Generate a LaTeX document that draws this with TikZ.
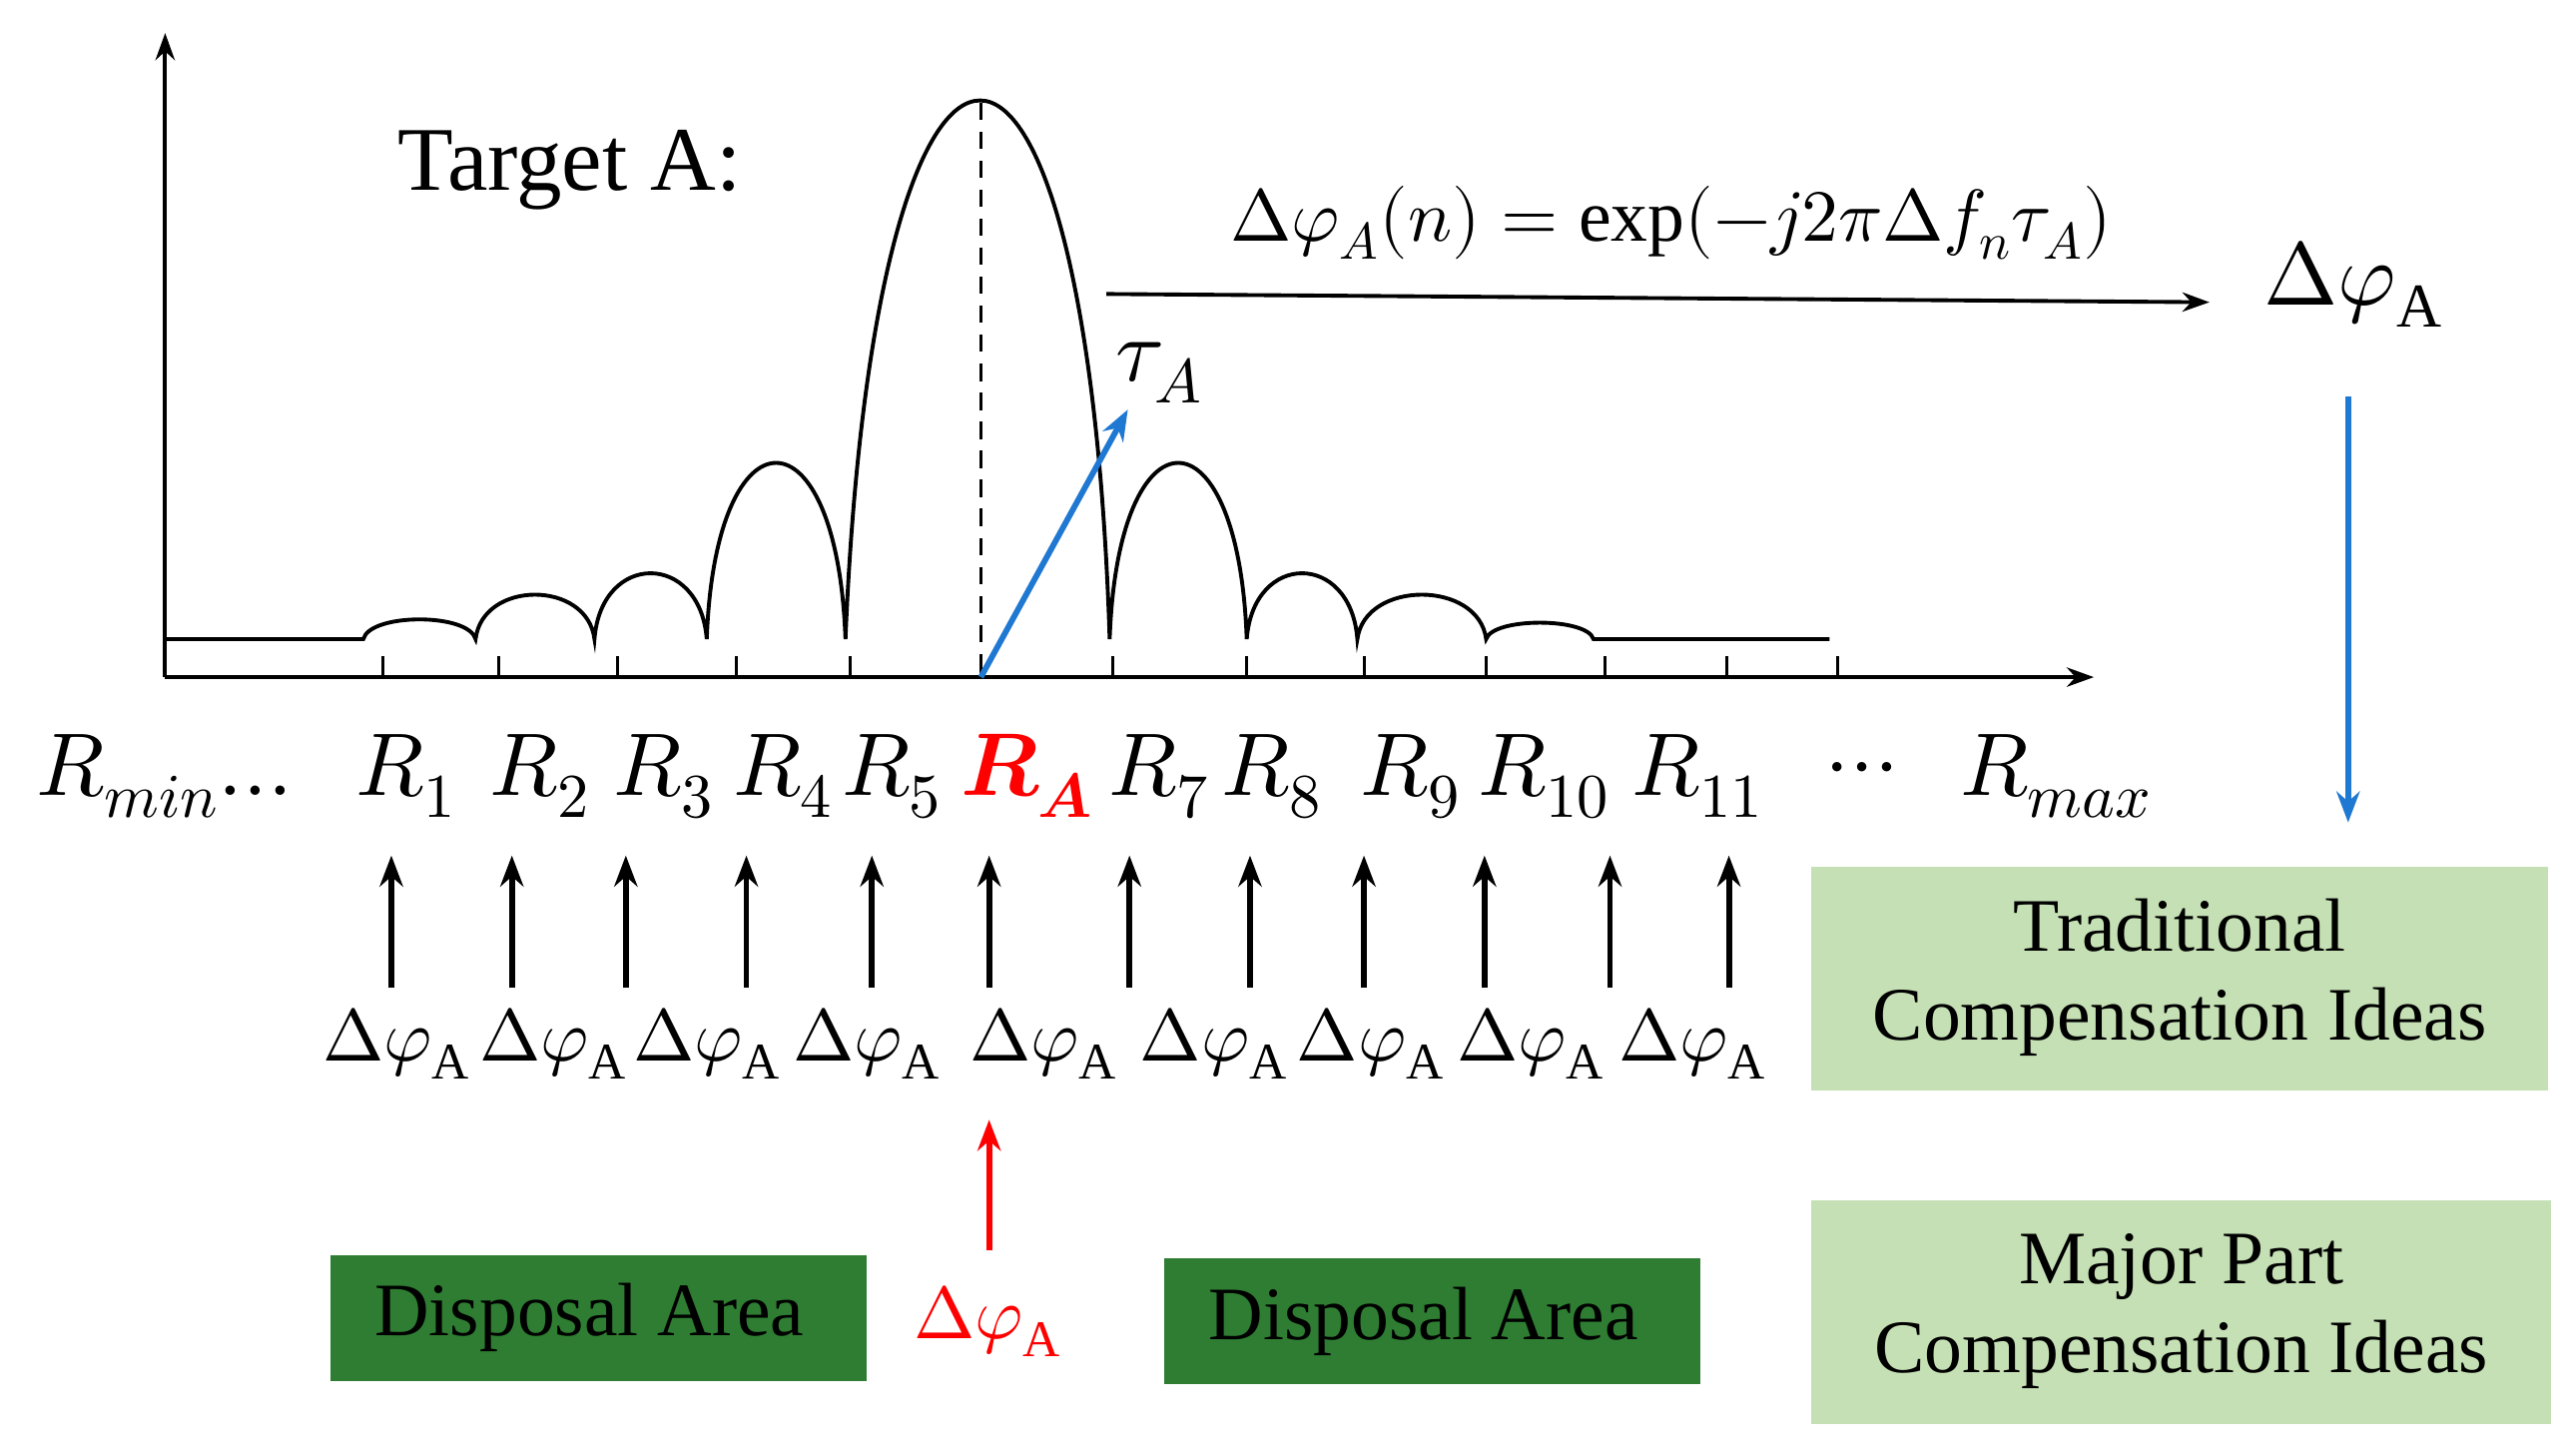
\documentclass[tikz,border=0pt]{standalone}
\usepackage{amsmath}
\usepackage{fontspec}
\usepackage{unicode-math}
\setmainfont{Liberation Serif}
\setmathfont{Latin Modern Math}
\usetikzlibrary{arrows.meta}
\definecolor{dg}{HTML}{2E7D32}
\definecolor{lg}{HTML}{C5E0B4}
\definecolor{bl}{HTML}{1F78D1}
\begin{document}
\begin{tikzpicture}[x=0.03cm,y=-0.03cm,
  ax/.style={line width=2pt,-{Stealth[length=14pt,width=10pt]}},
  up/.style={line width=3pt,-{Stealth[length=16pt,width=12pt]}},
  rl/.style={font=\fontsize{46}{50}\selectfont},
  dl/.style={font=\fontsize{38}{42}\selectfont},
  bt/.style={font=\fontsize{39}{46}\selectfont,align=center}]
\useasboundingbox (0,0) rectangle (1560,878);
\draw[ax] (100,410) -- (100,20);
\draw[ax] (100,410) -- (1268,410);
\foreach \x in {232,302,374,446,515,594,674,755,826,900,972,1046,1113}
  \draw[line width=1.5pt] (\x,410) -- (\x,397);
\def\lobe#1#2#3{.. controls ({#1+0.06*(#2-#1)},{387-1.33*#3}) and ({#2-0.06*(#2-#1)},{387-1.33*#3}) .. (#2,387)}
\draw[line width=2pt] (100,387) -- (220,387)
  \lobe{220}{288}{12} \lobe{288}{360}{27} \lobe{360}{428}{40}
  \lobe{428}{512}{107}
  .. controls (530,{387-1.33*327}) and (658,{387-1.33*327}) .. (672,387)
  \lobe{672}{755}{107} \lobe{755}{822}{40} \lobe{822}{900}{27}
  \lobe{900}{965}{10} -- (1108,387);
\draw[line width=1.8pt,dash pattern=on 9pt off 6pt] (594,62) -- (594,410);
\node[font=\fontsize{47}{52}\selectfont] (tg) at (345,103) {Target A:};
\coordinate (o) at (594,410);
\coordinate (te) at (683,248);
\draw[bl,line width=3pt,-{Stealth[length=16pt,width=12pt]}] (o) -- (te);
\node[rl] (tau) at (702,226) {$\tau_A$};
\coordinate (fs) at (670,178);
\node[rl] (phi) at (1425,172) {$\Delta\varphi_{\mathrm{A}}$};
\draw[ax] (fs) -- (1338,183);
\node[dl] (f) at (1012,135) {$\Delta\varphi_A(n)=\exp(-j2\pi\Delta f_n\tau_A)$};
\coordinate (bs) at (1422,240);
\draw[bl,line width=3pt,-{Stealth[length=16pt,width=12pt]}] (bs) -- (1422,498);
\node[rl,anchor=west] (rmin) at (18,470) {$R_{min}...$};
\foreach \x/\t in {246/1,327/2,402/3,474/4,540/5,702/7,770/8,854/9,935/10,1028/11}
  \node[rl] (r\t) at (\x,470) {$R_{\t}$};
\node[rl,red] (ra) at (622,470) {$\symbfit{R}_{\symbfit{A}}$};
\node[rl] (dots) at (1128,470) {$\cdots$};
\node[rl] (rmax) at (1245,470) {$R_{max}$};
\foreach \x in {237,310,379,452,528,599,684,757,826,899,975,1047}
  \draw[up] (\x,598) -- (\x,518);
\foreach \x/\i in {240/1,335/2,428/3,525/4,632/5,735/6,830/7,927/8,1025/9}
  \node[dl] (d\i) at (\x,632) {$\Delta\varphi_{\mathrm{A}}$};
\node[dl,red] (dr) at (598,800) {$\Delta\varphi_{\mathrm{A}}$};
\coordinate (rs) at (599,757);
\draw[up,red] (rs) -- (599,678);
\fill[dg] (200,760) rectangle (525,836);
\node[bt] (da1) at (357,798) {Disposal Area};
\fill[dg] (705,762) rectangle (1030,838);
\node[bt] (da2) at (862,800) {Disposal Area};
\fill[lg] (1097,525) rectangle (1543,660);
\node[bt] (b1) at (1320,592) {Traditional\\Compensation Ideas};
\fill[lg] (1097,727) rectangle (1545,862);
\node[bt] (b2) at (1321,794) {Major Part\\Compensation Ideas};
\end{tikzpicture}
\end{document}
